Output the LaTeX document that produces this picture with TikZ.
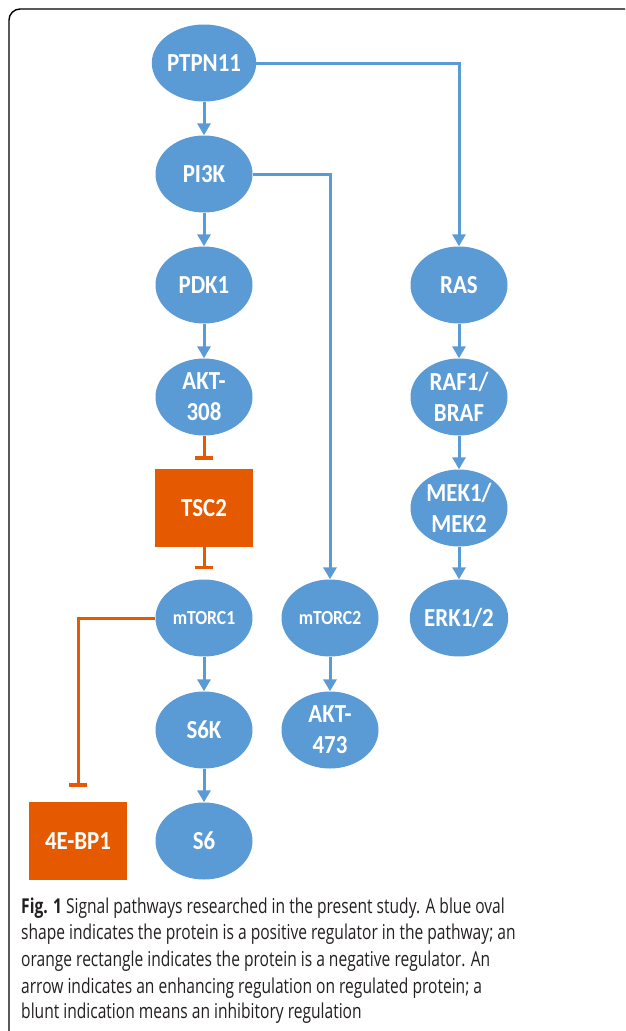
\documentclass[tikz,border=0pt]{standalone}
\usepackage{fontspec}
\setmainfont[FakeStretch=0.76]{Open Sans}
\newfontfamily\nodefont[FakeStretch=0.88]{Carlito}
\usetikzlibrary{shapes.geometric,arrows.meta}
\definecolor{pblue}{HTML}{5B9BD5}
\definecolor{porange}{HTML}{E55A00}
\definecolor{captxt}{HTML}{231F20}
\tikzset{
  posnode/.style={ellipse, fill=pblue, minimum width=97pt, minimum height=77pt, inner sep=0pt, text=white, font=\nodefont\bfseries\fontsize{26}{31}\selectfont, align=center},
  possmall/.style={posnode, font=\nodefont\bfseries\fontsize{20}{24}\selectfont},
  negnode/.style={rectangle, fill=porange, minimum width=98pt, minimum height=78pt, inner sep=0pt, text=white, font=\nodefont\bfseries\fontsize{26}{31}\selectfont},
  act/.style={draw=pblue, line width=3pt, -{Triangle[length=12pt,width=13pt]}},
  inh/.style={draw=porange, line width=3pt, -{Bar[width=18pt,line width=3.5pt]}},
  capline/.style={anchor=base west, inner sep=0pt, text=captxt, font=\fontsize{20.5}{26}\selectfont}
}
\begin{document}
\begin{tikzpicture}[x=1pt,y=-1pt]
\useasboundingbox (0,0) rectangle (625,1031);
\clip (0,0) rectangle (625,1031);
\draw[line width=1.4pt, rounded corners=11pt] (640,9) -- (9,9) -- (9,1045) -- (640,1045);
% nodes
\node[posnode] (ptpn) at (204,63) {PTPN11};
\node[posnode] (pi3k) at (204,174) {PI3K};
\node[posnode] (pdk) at (204,285) {PDK1};
\node[posnode] (akt308) at (204,397) {AKT-\\308};
\node[negnode] (tsc) at (204,508) {TSC2};
\node[possmall] (mtorc1) at (204,618) {mTORC1};
\node[posnode] (s6k) at (204,730) {S6K};
\node[posnode] (s6) at (204,841) {S6};
\node[negnode] (ebp) at (78,841) {4E-BP1};
\node[possmall] (mtorc2) at (330,618) {mTORC2};
\node[posnode] (akt473) at (330,730) {AKT-\\473};
\node[posnode] (ras) at (459,285) {RAS};
\node[posnode] (raf) at (459,397) {RAF1/\\BRAF};
\node[posnode] (mek) at (459,508) {MEK1/\\MEK2};
\node[posnode] (erk) at (459,618) {ERK1/2};
% connectors
\draw[act] (ptpn) -- (pi3k);
\draw[act] (pi3k) -- (pdk);
\draw[act] (pdk) -- (akt308);
\draw[act] (ptpn.east) -| (ras.north);
\draw[act] (pi3k.east) -| (mtorc2.north);
\draw[act] (ras) -- (raf);
\draw[act] (raf) -- (mek);
\draw[act] (mek) -- (erk);
\draw[act] (mtorc1) -- (s6k);
\draw[act] (s6k) -- (s6);
\draw[act] (mtorc2) -- (akt473);
\draw[inh] (akt308.south) -- ([yshift=9pt]tsc.north);
\draw[inh] (tsc.south) -- ([yshift=10pt]mtorc1.north);
\draw[inh] (mtorc1.west) -| ([yshift=15pt]ebp.north);
% caption
\node[capline] (c1) at (21,913) {\textbf{Fig. 1} Signal pathways researched in the present study. A blue oval};
\node[capline] (c2) at (21,939) {shape indicates the protein is a positive regulator in the pathway; an};
\node[capline] (c3) at (21,966) {orange rectangle indicates the protein is a negative regulator. An};
\node[capline] (c4) at (21,993) {arrow indicates an enhancing regulation on regulated protein; a};
\node[capline] (c5) at (21,1018) {blunt indication means an inhibitory regulation};
\end{tikzpicture}
\end{document}
